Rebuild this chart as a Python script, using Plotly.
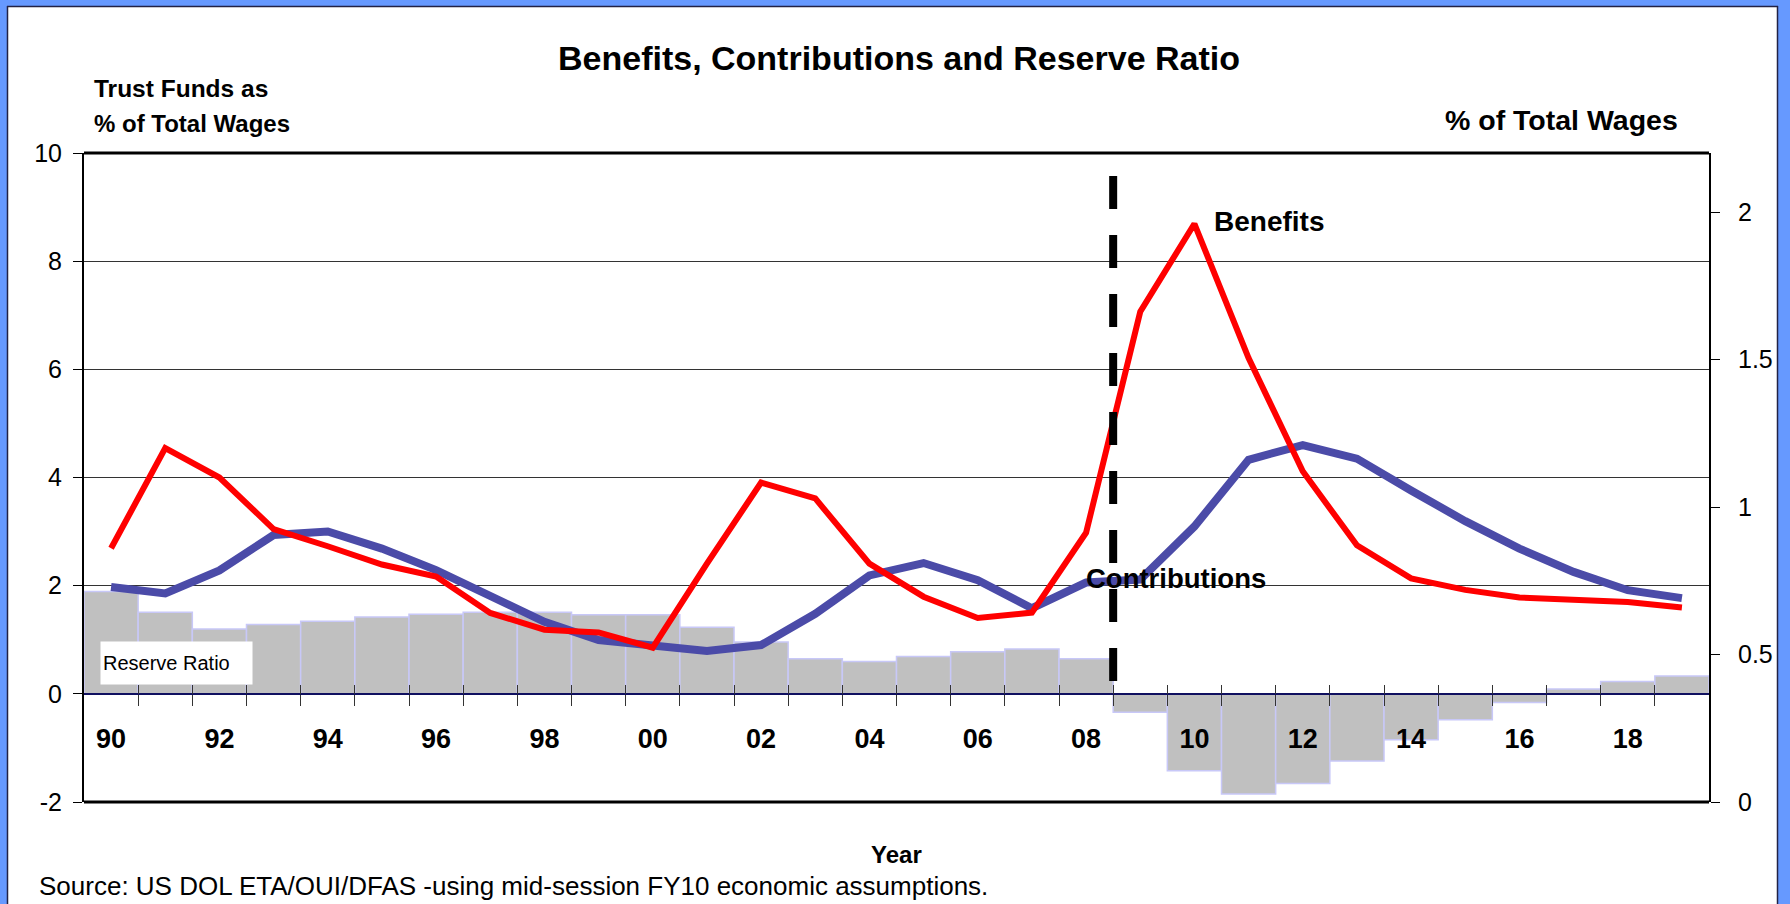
import plotly.graph_objects as go

# ---------------- data ----------------
years = list(range(1990, 2020))
reserve_ratio = [1.89, 1.51, 1.20, 1.28, 1.34, 1.42, 1.47, 1.51, 1.51, 1.46,
                 1.46, 1.23, 0.96, 0.65, 0.60, 0.69, 0.78, 0.83, 0.65, -0.34,
                 -1.42, -1.85, -1.66, -1.24, -0.85, -0.48, -0.16, 0.09, 0.23, 0.33]
benefits = [0.860, 1.200, 1.100, 0.925, 0.867, 0.805, 0.764, 0.641, 0.584, 0.575,
            0.523, 0.808, 1.083, 1.029, 0.808, 0.696, 0.624, 0.642, 0.913, 1.662,
            1.960, 1.505, 1.121, 0.870, 0.758, 0.719, 0.693, 0.686, 0.678, 0.659]
contributions = [0.729, 0.707, 0.785, 0.905, 0.917, 0.859, 0.786, 0.696, 0.611, 0.549,
                 0.529, 0.512, 0.532, 0.638, 0.768, 0.810, 0.752, 0.657, 0.744, 0.754,
                 0.934, 1.160, 1.210, 1.164, 1.056, 0.952, 0.859, 0.780, 0.718, 0.691]
label_years = [1990, 1992, 1994, 1996, 1998, 2000, 2002, 2004, 2006, 2008,
               2010, 2012, 2014, 2016, 2018]
label_text = ["90", "92", "94", "96", "98", "00", "02", "04", "06", "08",
              "10", "12", "14", "16", "18"]
left_ticks = [-2, 0, 2, 4, 6, 8, 10]
left_text = ["-2", "0", "2", "4", "6", "8", "10"]
right_ticks = [0, 0.5, 1, 1.5, 2]
right_text = ["0", "0.5", "1", "1.5", "2"]
forecast_start = 2008.5

# ---------------- layout geometry ----------------
W, H = 1790, 904
L, R, T, B = 84, 1709, 153, 802
pw, ph = R - L, B - T

def px(x):
    return (x - L) / pw

def py(y):
    return (B - y) / ph

FONT = "Liberation Sans, Arial, sans-serif"
BLUE_FRAME = "#6699FF"

boundaries = [y + 0.5 for y in years[:-1]]
xr = [years[0] - 0.5, years[-1] + 0.5]
zero_pos = (0 - left_ticks[0]) / (left_ticks[-1] - left_ticks[0])

fig = go.Figure()
fig.add_trace(go.Bar(
    x=years, y=reserve_ratio, width=1, name="Reserve Ratio",
    marker=dict(color="#C0C0C0", line=dict(color="#C8C8F8", width=1.5)),
    xaxis="x", yaxis="y", showlegend=False))
fig.add_trace(go.Scatter(
    x=years, y=contributions, mode="lines", name="Contributions",
    line=dict(color="#4B4BA8", width=8), xaxis="x", yaxis="y2", showlegend=False))
fig.add_trace(go.Scatter(
    x=years, y=benefits, mode="lines", name="Benefits",
    line=dict(color="#FF0000", width=6), xaxis="x", yaxis="y2", showlegend=False))

shapes = [
    # outer blue frame
    dict(type="rect", xref="paper", yref="paper", layer="below",
         x0=px(0), x1=px(7), y0=py(H + 5), y1=py(-5),
         fillcolor=BLUE_FRAME, line=dict(width=0)),
    dict(type="rect", xref="paper", yref="paper", layer="below",
         x0=px(0), x1=px(W + 5), y0=py(6), y1=py(-5),
         fillcolor=BLUE_FRAME, line=dict(width=0)),
    dict(type="rect", xref="paper", yref="paper", layer="below",
         x0=px(1778), x1=px(W + 5), y0=py(H + 5), y1=py(-5),
         fillcolor=BLUE_FRAME, line=dict(width=0)),
    dict(type="line", xref="paper", yref="paper", layer="below",
         x0=px(7), x1=px(1778), y0=py(6.5), y1=py(6.5),
         line=dict(color="#222244", width=1.5)),
    dict(type="line", xref="paper", yref="paper", layer="below",
         x0=px(7.5), x1=px(7.5), y0=py(6), y1=py(H + 5),
         line=dict(color="#222244", width=1.5)),
    dict(type="line", xref="paper", yref="paper", layer="below",
         x0=px(1777.5), x1=px(1777.5), y0=py(6), y1=py(H + 5),
         line=dict(color="#222244", width=1.5)),
    # plot frame top / bottom
    dict(type="line", xref="paper", yref="paper", x0=0, x1=1, y0=1, y1=1,
         line=dict(color="black", width=3)),
    dict(type="line", xref="paper", yref="paper", x0=0, x1=1, y0=0, y1=0,
         line=dict(color="black", width=3)),
    # forecast divider
    dict(type="line", xref="x", yref="paper", x0=forecast_start, x1=forecast_start,
         y0=py(176), y1=zero_pos,
         line=dict(color="black", width=8, dash="33px,26px")),
]

annotations = [
    dict(text="<b>Benefits, Contributions and Reserve Ratio</b>", x=px(899), y=py(58),
         xanchor="center", yanchor="middle", font=dict(size=34)),
    dict(text="<b>Trust Funds as</b>", x=px(92), y=py(88),
         xanchor="left", yanchor="middle", font=dict(size=24.5)),
    dict(text="<b>% of Total Wages</b>", x=px(92), y=py(123),
         xanchor="left", yanchor="middle", font=dict(size=24)),
    dict(text="<b>% of Total Wages</b>", x=px(1443), y=py(120),
         xanchor="left", yanchor="middle", font=dict(size=28.5)),
    dict(text="<b>Benefits</b>", x=px(1212), y=py(222),
         xanchor="left", yanchor="middle", font=dict(size=28)),
    dict(text="<b>Contributions</b>", x=px(1084), y=py(578),
         xanchor="left", yanchor="middle", font=dict(size=27.5)),
    dict(text="Reserve Ratio", x=px(100), y=py(663), width=147, height=38,
         xanchor="left", yanchor="middle", align="left", bgcolor="white",
         borderpad=2, font=dict(size=20)),
    dict(text="<b>Year</b>", x=px(896), y=py(854),
         xanchor="center", yanchor="middle", font=dict(size=24)),
    dict(text="Source: US DOL ETA/OUI/DFAS -using mid-session FY10 economic assumptions.",
         x=px(37), y=py(886), xanchor="left", yanchor="middle", font=dict(size=26)),
]
for a in annotations:
    a.update(xref="paper", yref="paper", showarrow=False)

fig.update_layout(
    width=W, height=H,
    margin=dict(l=L, r=W - R, t=T, b=H - B, pad=0),
    paper_bgcolor="white", plot_bgcolor="white",
    font=dict(family=FONT, color="black"),
    showlegend=False, barmode="overlay",
    shapes=shapes, annotations=annotations,
    xaxis=dict(range=xr, anchor="free", position=zero_pos,
               showline=True, linecolor="#101060", linewidth=1.5,
               tickmode="array", tickvals=boundaries, ticks="outside",
               ticklen=11, tickwidth=1, tickcolor="#333333",
               showticklabels=False, showgrid=False, zeroline=False),
    xaxis2=dict(range=xr, overlaying="x", anchor="free", position=zero_pos,
                showline=False, tickmode="array", tickvals=boundaries,
                ticks="inside", ticklen=9, tickwidth=1, tickcolor="#333333",
                showticklabels=False, showgrid=False, zeroline=False),
    xaxis3=dict(range=xr, overlaying="x", anchor="free", position=zero_pos,
                showline=False, tickmode="array", tickvals=label_years,
                ticktext=label_text, ticks="", ticklabelstandoff=26,
                tickfont=dict(size=27, weight="bold"),
                showgrid=False, zeroline=False),
    yaxis=dict(range=[left_ticks[0], left_ticks[-1]], tickmode="array",
               tickvals=left_ticks, ticktext=left_text,
               ticks="outside", ticklen=9, tickcolor="black",
               ticklabelstandoff=6,
               showline=True, linecolor="black", linewidth=2,
               showgrid=True, gridcolor="#333333", gridwidth=1,
               zeroline=True, zerolinecolor="#101060", zerolinewidth=1.5,
               tickfont=dict(size=25)),
    yaxis2=dict(range=[0, 2.2], overlaying="y", side="right", anchor="x",
                tickmode="array", tickvals=right_ticks, ticktext=right_text,
                ticks="outside", ticklen=9, tickcolor="black",
                ticklabelstandoff=13,
                showline=True, linecolor="black", linewidth=2,
                showgrid=False, zeroline=False, tickfont=dict(size=25)),
)

# invisible helper traces so the overlay axes are drawn
fig.add_trace(go.Scatter(x=[years[0]], y=[0], xaxis="x2", yaxis="y", mode="markers",
                         marker=dict(opacity=0), hoverinfo="skip", showlegend=False))
fig.add_trace(go.Scatter(x=[years[0]], y=[0], xaxis="x3", yaxis="y", mode="markers",
                         marker=dict(opacity=0), hoverinfo="skip", showlegend=False))

fig.write_html("out.html")
